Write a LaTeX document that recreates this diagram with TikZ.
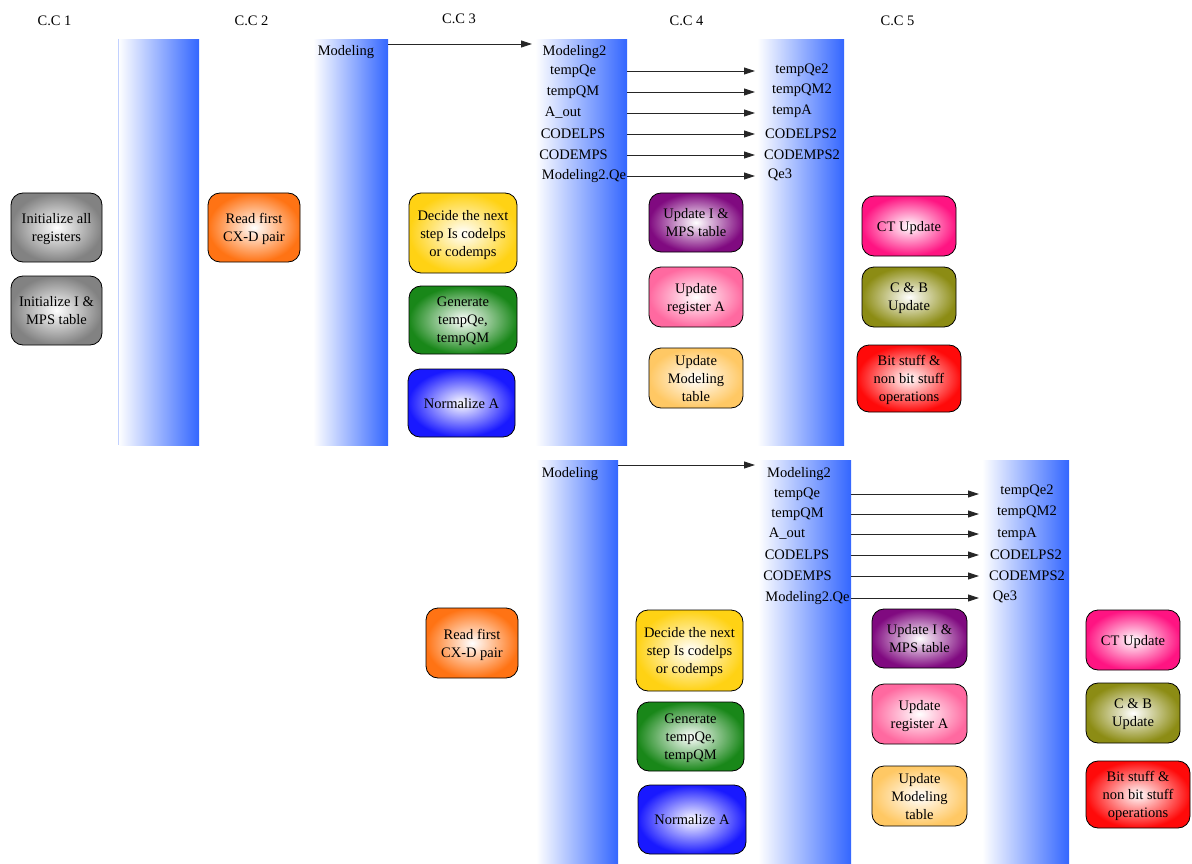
\documentclass[tikz,border=0pt]{standalone}
\usepackage{fontspec}
\setmainfont{Liberation Serif}
\usetikzlibrary{arrows.meta}
\definecolor{bandblue}{RGB}{51,102,255}
\definecolor{cgray}{RGB}{130,130,130}
\definecolor{corange}{RGB}{255,115,20}
\definecolor{cyellow}{RGB}{255,210,20}
\definecolor{cgreen}{RGB}{25,135,25}
\definecolor{cblue}{RGB}{25,25,255}
\definecolor{cpurple}{RGB}{128,10,128}
\definecolor{cpink}{RGB}{255,105,160}
\definecolor{cpeach}{RGB}{255,200,100}
\definecolor{cmagenta}{RGB}{255,20,130}
\definecolor{colive}{RGB}{140,140,20}
\definecolor{cred}{RGB}{255,10,10}
\begin{document}
\begin{tikzpicture}[x=1pt,y=-1pt,
  every node/.style={font=\fontsize{14.5}{18}\selectfont},
  lbl/.style={inner sep=0pt, yshift=-2pt},
  band/.style={draw=none, left color=white, right color=bandblue, inner sep=0pt, anchor=north west},
  box/.style={draw=black, line width=0.8pt, rounded corners=12pt, align=center, inner sep=2pt,
    text depth=0pt, inner color=white, outer color=#1},
  flow/.style={draw=black!85, line width=0.9pt, -{Triangle[length=11pt,width=7pt]}}]
\useasboundingbox (0,0) rectangle (1192,864);

% clock cycle headers
\node[lbl] (h1) at (54.5,19) {C.C 1};
\node[lbl] (h2) at (251.5,19) {C.C 2};
\node[lbl] (h3) at (459,17) {C.C 3};
\node[lbl] (h4) at (686.5,19) {C.C 4};
\node[lbl] (h5) at (897.5,19) {C.C 5};

% pipeline registers, first pass
\node[band, minimum width=81pt, minimum height=406pt] (b1) at (118,39) {};
\draw[bandblue!30, line width=0.8pt] (b1.north west) -- (b1.south west);
\node[band, minimum width=75pt, minimum height=406pt] (b2) at (313,39) {};
\node[band, minimum width=92pt, minimum height=406pt] (b3) at (535,39) {};
\node[band, minimum width=87pt, minimum height=406pt] (b4) at (757,39) {};

% pipeline registers, second pass
\node[band, minimum width=82pt, minimum height=404pt] (c1) at (536,460) {};
\node[band, minimum width=93pt, minimum height=404pt] (c2) at (758,460) {};
\node[band, minimum width=87pt, minimum height=404pt] (c3) at (982,460) {};

% register contents, first pass
\node[lbl] (m1) at (346,50) {Modeling};
\node[lbl] (p1) at (574.5,50) {Modeling2};
\node[lbl] (p2) at (573,69) {tempQe};
\node[lbl] (p3) at (573,90) {tempQM};
\node[lbl] (p4) at (563,111) {A\_out};
\node[lbl] (p5) at (573,132) {CODELPS};
\node[lbl] (p6) at (573.5,153) {CODEMPS};
\node[lbl] (p7) at (584,174) {Modeling2.Qe};
\node[lbl] (q2) at (802,68) {tempQe2};
\node[lbl] (q3) at (802,88) {tempQM2};
\node[lbl] (q4) at (792,109) {tempA};
\node[lbl] (q5) at (801,132) {CODELPS2};
\node[lbl] (q6) at (802,153) {CODEMPS2};
\node[lbl] (q7) at (780,173) {Qe3};

\draw[flow, shorten >=3pt] ([yshift=-5pt]b2.north east) -- ([yshift=-5pt]b3.north west);
\foreach \s in {2,...,7}
  \draw[flow, shorten >=2pt] (b3.east |- p\s) -- (b4.west |- p\s);

% register contents, second pass
\node[lbl] (m2) at (570,472) {Modeling};
\node[lbl] (r1) at (799,472) {Modeling2};
\node[lbl] (r2) at (797,492) {tempQe};
\node[lbl] (r3) at (797.5,512) {tempQM};
\node[lbl] (r4) at (787,532) {A\_out};
\node[lbl] (r5) at (797,553) {CODELPS};
\node[lbl] (r6) at (797.5,574) {CODEMPS};
\node[lbl] (r7) at (807.5,596) {Modeling2.Qe};
\node[lbl] (s2) at (1027,489) {tempQe2};
\node[lbl] (s3) at (1027,510) {tempQM2};
\node[lbl] (s4) at (1017,532) {tempA};
\node[lbl] (s5) at (1026,553) {CODELPS2};
\node[lbl] (s6) at (1027,574) {CODEMPS2};
\node[lbl] (s7) at (1005,595) {Qe3};

\draw[flow, shorten >=3pt] ([yshift=-5pt]c1.north east) -- ([yshift=-5pt]c2.north west);
\foreach \s in {2,...,7}
  \draw[flow, shorten >=3pt] (c2.east |- r\s) -- (c3.west |- r\s);

% operations, first pass
\node[box=cgray, minimum width=91pt, minimum height=69pt] (a1) at (56.5,227.5) {Initialize all\\registers};
\node[box=cgray, minimum width=91pt, minimum height=69pt] (a2) at (56.5,310.5) {Initialize I \&\\MPS table};
\node[box=corange, minimum width=92pt, minimum height=69pt] (a3) at (254,227.5) {Read first\\CX-D pair};
\node[box=cyellow, minimum width=108pt, minimum height=80pt] (a4) at (463,233) {Decide the next\\step Is codelps\\or codemps};
\node[box=cgreen, minimum width=108pt, minimum height=68pt] (a5) at (463,320) {Generate\\tempQe,\\tempQM};
\node[box=cblue, minimum width=107pt, minimum height=68pt] (a6) at (461.5,403) {Normalize A};
\node[box=cpurple, minimum width=94pt, minimum height=59pt] (a7) at (696,222.5) {Update I \&\\MPS table};
\node[box=cpink, minimum width=94pt, minimum height=60pt] (a8) at (696,297) {Update\\register A};
\node[box=cpeach, minimum width=94pt, minimum height=60pt] (a9) at (696,378) {Update\\Modeling\\table};
\node[box=cmagenta, minimum width=94pt, minimum height=60pt] (a10) at (909,226) {CT Update};
\node[box=colive, minimum width=94pt, minimum height=60pt] (a11) at (909,297) {C \& B\\Update};
\node[box=cred, minimum width=104pt, minimum height=67pt] (a12) at (909,378.5) {Bit stuff \&\\non bit stuff\\operations};

% operations, second pass
\node[box=corange, minimum width=92pt, minimum height=70pt] (d3) at (472,643) {Read first\\CX-D pair};
\node[box=cyellow, minimum width=107pt, minimum height=81pt] (d4) at (689.5,650.5) {Decide the next\\step Is codelps\\or codemps};
\node[box=cgreen, minimum width=107pt, minimum height=69pt] (d5) at (690.5,736.5) {Generate\\tempQe,\\tempQM};
\node[box=cblue, minimum width=108pt, minimum height=69pt] (d6) at (692,819.5) {Normalize A};
\node[box=cpurple, minimum width=95pt, minimum height=59pt] (d7) at (919.5,638.5) {Update I \&\\MPS table};
\node[box=cpink, minimum width=95pt, minimum height=60pt] (d8) at (919.5,714) {Update\\register A};
\node[box=cpeach, minimum width=95pt, minimum height=60pt] (d9) at (919.5,796) {Update\\Modeling\\table};
\node[box=cmagenta, minimum width=94pt, minimum height=60pt] (d10) at (1133,640) {CT Update};
\node[box=colive, minimum width=94pt, minimum height=60pt] (d11) at (1133,713) {C \& B\\Update};
\node[box=cred, minimum width=104pt, minimum height=67pt] (d12) at (1138,794.5) {Bit stuff \&\\non bit stuff\\operations};
\end{tikzpicture}
\end{document}
